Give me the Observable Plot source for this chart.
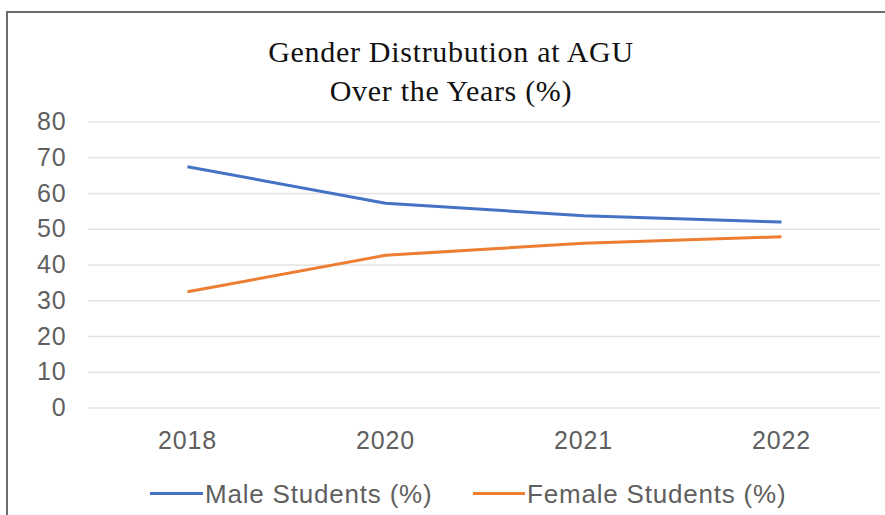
<!DOCTYPE html>
<html>
<head>
<meta charset="utf-8">
<script src="https://cdn.jsdelivr.net/npm/d3@7"></script>
<script src="https://cdn.jsdelivr.net/npm/@observablehq/plot@0.6"></script>
<style>
  html, body { margin: 0; padding: 0; background: #fff; }
  #wrap { position: relative; width: 885px; height: 515px; overflow: hidden; background: #fff; }
  #frame { position: absolute; left: 6px; top: 11px; width: 890px; height: 520px;
           border-left: 2px solid #6b6b6b; border-top: 2px solid #6b6b6b; box-sizing: border-box; }
  #title { position: absolute; left: 151px; top: 32px; width: 600px; text-align: center;
           font-family: "Liberation Serif", serif; font-size: 30px; line-height: 39px;
           letter-spacing: 0.7px; color: #111; }
  #chart { position: absolute; left: 0; top: 100px; }
  .leg { position: absolute; font-family: "Liberation Sans", Arial, sans-serif; font-size: 26px;
         letter-spacing: 0.8px; color: #5f5f5f; white-space: nowrap; line-height: 30px; }
  .sw { position: absolute; height: 3px; }
</style>
</head>
<body>
<div id="wrap">
  <div id="frame"></div>
  <div id="title">Gender Distrubution at AGU<br>Over the Years (%)</div>
  <div id="chart"></div>
  <div id="legend"></div>
</div>
<script>
const years = ["2018", "2020", "2021", "2022"];
const male = [67.5, 57.3, 53.8, 52.0];
const female = [32.5, 42.7, 46.1, 47.9];
const seriesNames = ["Male Students (%)", "Female Students (%)"];
const seriesColors = ["#4472C4", "#ED7D31"];
const yTicks = [0, 10, 20, 30, 40, 50, 60, 70, 80];

const rows = [];
years.forEach((yr, i) => {
  rows.push({year: yr, value: male[i], series: seriesNames[0]});
  rows.push({year: yr, value: female[i], series: seriesNames[1]});
});

const plot = Plot.plot({
  width: 885,
  height: 380,
  marginTop: 21.5,
  marginBottom: 72.5,
  marginLeft: 88,
  marginRight: 5,
  style: {fontFamily: "Liberation Sans, Arial, sans-serif", fontSize: "25px", letterSpacing: "0.8px", color: "#5f5f5f", background: "transparent", overflow: "visible"},
  x: {type: "point", domain: years, padding: 0.5, label: null},
  y: {domain: [0, 80], ticks: yTicks, label: null},
  color: {domain: seriesNames, range: seriesColors},
  marks: [
    Plot.ruleY(yTicks, {stroke: "#e3e3e3", strokeWidth: 1.5}),
    Plot.axisY({ticks: yTicks, tickSize: 0, tickPadding: 22, label: null, fill: "#5f5f5f"}),
    Plot.axisX({tickSize: 0, tickPadding: 23, label: null, fill: "#5f5f5f"}),
    Plot.line(rows, {x: "year", y: "value", z: "series", stroke: "series", strokeWidth: 3,
                     strokeLinejoin: "round", strokeLinecap: "butt", curve: "linear"})
  ]
});
document.getElementById("chart").appendChild(plot);

// legend
const legend = document.getElementById("legend");
const legendPos = [{sw: 150, tx: 205}, {sw: 473, tx: 527}];
seriesNames.forEach((name, i) => {
  const sw = document.createElement("div");
  sw.className = "sw";
  sw.style.left = legendPos[i].sw + "px";
  sw.style.top = "492px";
  sw.style.width = (legendPos[i].tx - legendPos[i].sw - 2) + "px";
  sw.style.background = seriesColors[i];
  legend.appendChild(sw);
  const t = document.createElement("div");
  t.className = "leg";
  t.style.left = legendPos[i].tx + "px";
  t.style.top = "479px";
  t.textContent = name;
  legend.appendChild(t);
});
</script>
</body>
</html>
